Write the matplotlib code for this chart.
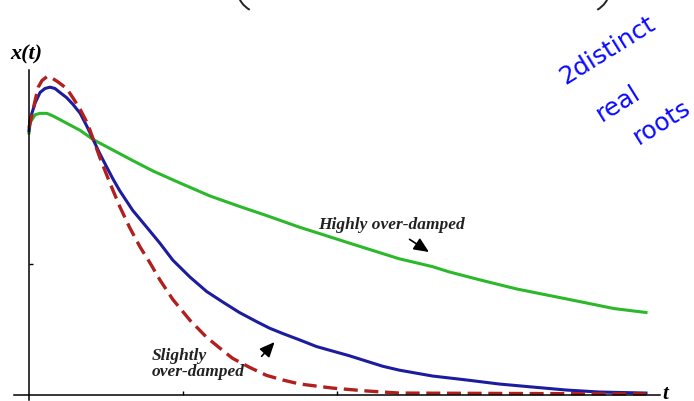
import numpy as np
import matplotlib
matplotlib.use("Agg")
import matplotlib.pyplot as plt
from matplotlib.patches import Arc

# (t along the axis, x(t) up)
t_high = [0.00, 0.02, 0.10, 0.18, 0.29, 0.39, 0.55, 0.71, 0.83, 1.04, 1.36, 1.68,
          2.01, 2.44, 2.93, 3.41, 3.85, 4.39, 4.66, 5.19, 5.73, 6.00, 6.54, 6.81,
          7.30, 7.90, 8.43, 8.96, 9.48, 10.0]
x_high = [2.00, 2.08, 2.14, 2.15, 2.15, 2.13, 2.09, 2.05, 2.02, 1.95, 1.87, 1.79,
          1.71, 1.62, 1.52, 1.44, 1.37, 1.28, 1.24, 1.16, 1.08, 1.04, 0.98, 0.94,
          0.88, 0.81, 0.76, 0.71, 0.66, 0.63]

t_mid = [0.00, 0.02, 0.10, 0.18, 0.26, 0.34, 0.42, 0.50, 0.61, 0.71, 0.83, 0.94,
         1.04, 1.15, 1.26, 1.36, 1.47, 1.68, 1.91, 2.12, 2.33, 2.61, 2.88, 3.14,
         3.41, 3.69, 3.90, 4.11, 4.39, 4.66, 5.19, 5.73, 6.00, 6.54, 7.09, 7.62,
         8.16, 8.71, 9.24, 10.0]
x_mid = [2.02, 2.11, 2.23, 2.31, 2.34, 2.35, 2.34, 2.31, 2.27, 2.22, 2.15, 2.05,
         1.95, 1.84, 1.74, 1.65, 1.56, 1.41, 1.28, 1.16, 1.03, 0.90, 0.79, 0.71,
         0.63, 0.56, 0.51, 0.47, 0.42, 0.37, 0.30, 0.22, 0.19, 0.145, 0.115, 0.084,
         0.061, 0.038, 0.023, 0.015]

t_slight = [0.00, 0.10, 0.15, 0.21, 0.29, 0.37, 0.47, 0.61, 0.71, 0.83, 0.94, 0.99,
            1.15, 1.31, 1.47, 1.63, 1.80, 1.96, 2.12, 2.33, 2.61, 2.88, 3.14, 3.30,
            3.58, 3.85, 4.11, 4.39, 4.92, 5.47, 6.00, 10.0]
x_slight = [2.04, 2.25, 2.35, 2.40, 2.43, 2.42, 2.39, 2.34, 2.27, 2.18, 2.08, 2.02,
            1.81, 1.62, 1.44, 1.28, 1.13, 1.01, 0.88, 0.73, 0.57, 0.44, 0.34, 0.28,
            0.21, 0.15, 0.115, 0.084, 0.053, 0.031, 0.015, 0.008]

xticks = [2.5, 5.0]
yticks = [1.0]

W, H = 694, 401
fig = plt.figure(figsize=(W / 100, H / 100), dpi=100)
ax = fig.add_axes([14 / W, 1 - 400 / H, (660 - 14) / W, (400 - 70) / H])
ax.set_xlim(-0.243, 10.227)
ax.set_ylim(-0.038, 2.481)

ax.plot(t_high, x_high, color="#2bb82b", lw=2.2, solid_joinstyle="round")
ax.plot(t_mid, x_mid, color="#1c1c9e", lw=2.2, solid_joinstyle="round")
ax.plot(t_slight, x_slight, color="#b0201e", lw=2.4, linestyle=(0, (4.2, 2.0)))

for s in ["top", "right"]:
    ax.spines[s].set_visible(False)
ax.spines["left"].set_position(("data", 0))
ax.spines["bottom"].set_position(("data", 0))
ax.spines["left"].set_linewidth(1.1)
ax.spines["bottom"].set_linewidth(1.1)
ax.set_xticks(xticks)
ax.set_yticks(yticks)
ax.tick_params(direction="in", length=3, width=1, labelbottom=False, labelleft=False)

serif = {"family": "Liberation Serif", "weight": "bold", "style": "italic"}
ax.text(-0.05, 2.60, "x(t)", fontdict=serif, fontsize=16, ha="center", va="center")
ax.text(10.27, 0.01, "t", fontdict=serif, fontsize=15, ha="left", va="center")
ax.text(4.68, 1.30, "Highly over-damped", fontdict=serif, fontsize=12.5, ha="left",
        va="center", color="#222222")
ax.text(1.99, 0.237, "Slightly\nover-damped", fontdict=serif, fontsize=12.5, ha="left",
        va="center", linespacing=1.05, color="#222222")

arw = dict(arrowstyle="-|>,head_length=0.9,head_width=0.4", color="black", lw=1.2)
ax.annotate("", xy=(6.52, 1.08), xytext=(6.13, 1.20), arrowprops=arw)
ax.annotate("", xy=(4.01, 0.42), xytext=(3.74, 0.28), arrowprops=arw)

# handwritten note
hand = dict(color="#0a0aff", fontsize=18, family="DejaVu Sans", ha="center",
            va="center", rotation=32)
fig.text(607 / W, 1 - 50 / H, "2distinct", **hand)
fig.text(618 / W, 1 - 103 / H, "real", **hand)
fig.text(662 / W, 1 - 122 / H, "roots", **hand)

# bottoms of the large brackets cut off at the top edge
r = 25
fig.add_artist(Arc((262 / W, 1 + 12 / H), 2 * r / W, 2 * r / H, theta1=200, theta2=252,
                   transform=fig.transFigure, color="#222222", lw=1.4))
fig.add_artist(Arc((585 / W, 1 + 12 / H), 2 * r / W, 2 * r / H, theta1=288, theta2=340,
                   transform=fig.transFigure, color="#222222", lw=1.4))

fig.savefig("out.png", dpi=100)
